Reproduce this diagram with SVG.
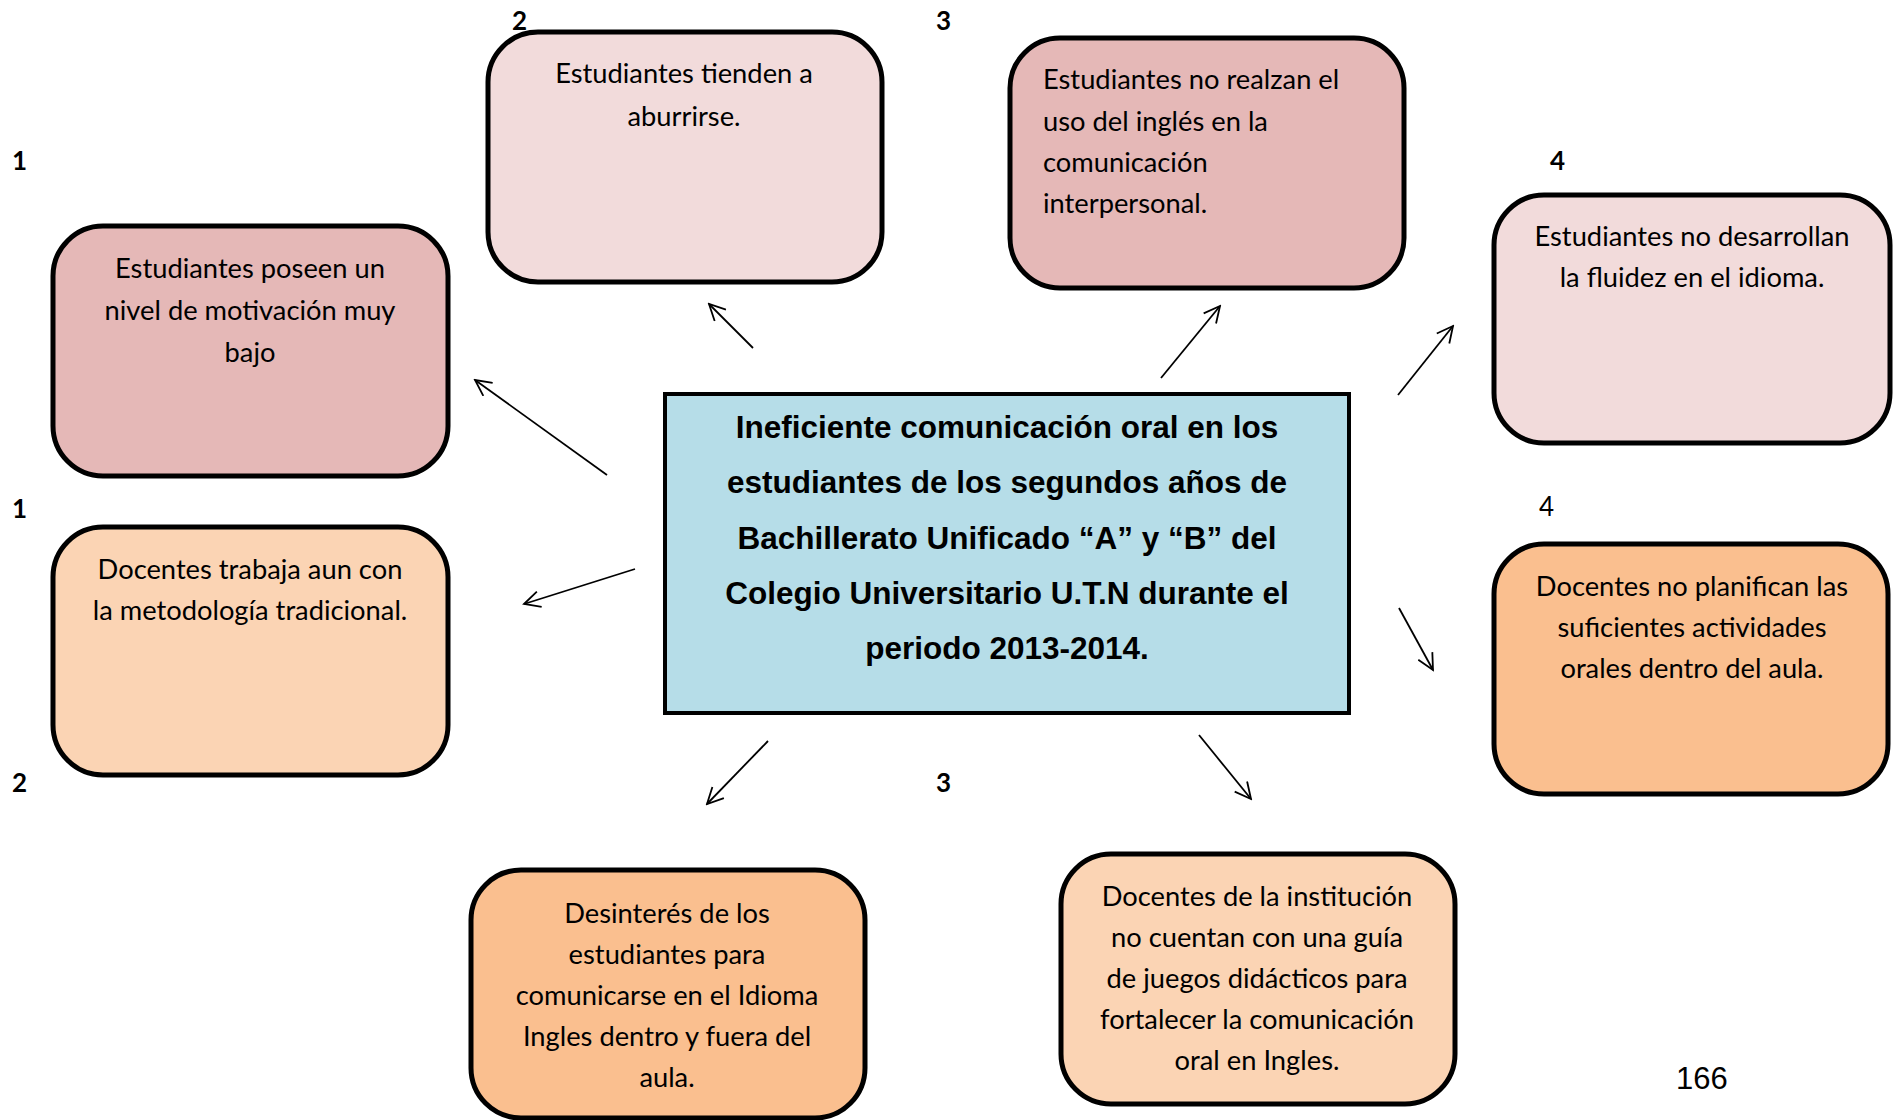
<svg xmlns="http://www.w3.org/2000/svg" width="1899" height="1120" viewBox="0 0 1899 1120">
<defs>
<style>
.box{stroke:#000;stroke-width:5}
.pinkD{fill:#E5B8B7}.pinkL{fill:#F2DBDB}.peach{fill:#FBD4B4}.orange{fill:#FABF8F}
.t{font-family:Lato,"Open Sans","Noto Sans",sans-serif;font-size:27.3px;fill:#000}
.c{text-anchor:middle}
.num{font-family:Lato,"Open Sans",sans-serif;font-size:26px;font-weight:bold;fill:#000}
.numr{font-family:Lato,"Open Sans",sans-serif;font-size:26px;fill:#000}
.main{font-family:"Liberation Sans",Arial,sans-serif;font-size:31.5px;font-weight:bold;text-anchor:middle;fill:#000}
.arr{stroke:#000;stroke-width:1.8;fill:none;marker-end:url(#ah)}
</style>
<marker id="ah" viewBox="0 0 20 18" refX="18" refY="9" markerWidth="20" markerHeight="18" markerUnits="userSpaceOnUse" orient="auto">
<path d="M2,1 L18,9 L2,17" fill="none" stroke="#000" stroke-width="1.8"/>
</marker>
</defs>
<rect width="1899" height="1120" fill="#fff"/>

<g id="center">
<rect x="665" y="394" width="684" height="319" fill="#B6DDE8" stroke="#000" stroke-width="4"/>
<text class="main" x="1007" y="438">Ineficiente comunicación oral en los</text>
<text class="main" x="1007" y="493">estudiantes de los segundos años de</text>
<text class="main" x="1007" y="549">Bachillerato Unificado “A” y “B” del</text>
<text class="main" x="1007" y="604">Colegio Universitario U.T.N durante el</text>
<text class="main" x="1007" y="659">periodo 2013-2014.</text>
</g>

<g id="nodeA">
<rect class="box pinkD" x="53" y="226" width="395" height="250" rx="50"/>
<text class="t c" x="250" y="278">Estudiantes poseen un</text>
<text class="t c" x="250" y="320">nivel de motivación muy</text>
<text class="t c" x="250" y="362">bajo</text>
</g>

<g id="nodeB">
<rect class="box peach" x="53" y="527" width="395" height="248" rx="50"/>
<text class="t c" x="250" y="579">Docentes trabaja aun con</text>
<text class="t c" x="250" y="620">la metodología tradicional.</text>
</g>

<g id="nodeC">
<rect class="box pinkL" x="488" y="32" width="394" height="250" rx="50"/>
<text class="t c" x="684" y="83">Estudiantes tienden a</text>
<text class="t c" x="684" y="126">aburrirse.</text>
</g>

<g id="nodeD">
<rect class="box pinkD" x="1010" y="38" width="394" height="250" rx="50"/>
<text class="t" x="1043" y="89">Estudiantes no realzan el</text>
<text class="t" x="1043" y="131">uso del inglés en la</text>
<text class="t" x="1043" y="172">comunicación</text>
<text class="t" x="1043" y="213">interpersonal.</text>
</g>

<g id="nodeE">
<rect class="box pinkL" x="1494" y="195" width="396" height="248" rx="50"/>
<text class="t c" x="1692" y="246">Estudiantes no desarrollan</text>
<text class="t c" x="1692" y="287">la fluidez en el idioma.</text>
</g>

<g id="nodeF">
<rect class="box orange" x="1494" y="544" width="394" height="250" rx="50"/>
<text class="t c" x="1692" y="596">Docentes no planifican las</text>
<text class="t c" x="1692" y="637">suficientes actividades</text>
<text class="t c" x="1692" y="678">orales dentro del aula.</text>
</g>

<g id="nodeG">
<rect class="box orange" x="471" y="870" width="394" height="248" rx="50"/>
<text class="t c" x="667" y="923">Desinterés de los</text>
<text class="t c" x="667" y="964">estudiantes para</text>
<text class="t c" x="667" y="1005">comunicarse en el Idioma</text>
<text class="t c" x="667" y="1046">Ingles dentro y fuera del</text>
<text class="t c" x="667" y="1087">aula.</text>
</g>

<g id="nodeH">
<rect class="box peach" x="1061" y="854" width="394" height="250" rx="50"/>
<text class="t c" x="1257" y="906">Docentes de la institución</text>
<text class="t c" x="1257" y="947">no cuentan con una guía</text>
<text class="t c" x="1257" y="988">de juegos didácticos para</text>
<text class="t c" x="1257" y="1029">fortalecer la comunicación</text>
<text class="t c" x="1257" y="1070">oral en Ingles.</text>
</g>

<g id="labels">
<text class="num" x="12" y="170">1</text>
<text class="num" x="12" y="518">1</text>
<text class="num" x="12" y="792">2</text>
<text class="num" x="512" y="30">2</text>
<text class="num" x="936" y="30">3</text>
<text class="num" x="936" y="792">3</text>
<text class="num" x="1550" y="170">4</text>
<text class="numr" x="1539" y="516">4</text>
<text x="1676" y="1089" font-family="Liberation Sans,Arial,sans-serif" font-size="31">166</text>
</g>

<g id="connectors">
<line class="arr" x1="753" y1="348" x2="709" y2="304"/>
<line class="arr" x1="607" y1="475" x2="475" y2="380"/>
<line class="arr" x1="635" y1="569" x2="524" y2="604"/>
<line class="arr" x1="1161" y1="378" x2="1220" y2="306"/>
<line class="arr" x1="1398" y1="395" x2="1453" y2="326"/>
<line class="arr" x1="1399" y1="608" x2="1433" y2="670"/>
<line class="arr" x1="768" y1="741" x2="707" y2="804"/>
<line class="arr" x1="1199" y1="735" x2="1251" y2="799"/>
</g>
</svg>
